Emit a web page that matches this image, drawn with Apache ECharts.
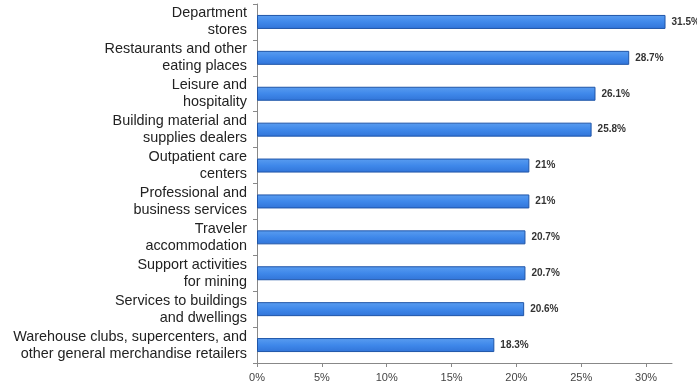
<!DOCTYPE html>
<html><head><meta charset="utf-8">
<script src="https://cdn.jsdelivr.net/npm/echarts@6/dist/echarts.min.js"></script>
<style>html,body{margin:0;padding:0;background:#fff}#c{width:697px;height:389px}</style>
</head><body><div id="c"></div>
<script>
const categories = [
  "Department\nstores",
  "Restaurants and other\neating places",
  "Leisure and\nhospitality",
  "Building material and\nsupplies dealers",
  "Outpatient care\ncenters",
  "Professional and\nbusiness services",
  "Traveler\naccommodation",
  "Support activities\nfor mining",
  "Services to buildings\nand dwellings",
  "Warehouse clubs, supercenters, and\nother general merchandise retailers"
];
const values = [31.5, 28.7, 26.1, 25.8, 21, 21, 20.7, 20.7, 20.6, 18.3];
const valueLabels = ["31.5%", "28.7%", "26.1%", "25.8%", "21%", "21%", "20.7%", "20.7%", "20.6%", "18.3%"];
const xTicks = [0, 5, 10, 15, 20, 25, 30];

const chart = echarts.init(document.getElementById('c'), null, {renderer: 'canvas'});
chart.setOption({
  animation: false,
  backgroundColor: '#ffffff',
  grid: {left: 257, top: 4, right: 25, bottom: 26},
  xAxis: {
    type: 'value', min: 0, max: 32,
    axisLine: {show: true, lineStyle: {color: '#888', width: 1}},
    axisTick: {show: true, length: 4, lineStyle: {color: '#888'}, customValues: xTicks},
    splitLine: {show: false},
    axisLabel: {customValues: xTicks, formatter: '{value}%', color: '#444', fontSize: 11, margin: 9, fontFamily: 'Liberation Sans, Arial, sans-serif'}
  },
  yAxis: {
    type: 'category', data: categories, inverse: true,
    axisLine: {show: true, lineStyle: {color: '#888', width: 1}},
    axisTick: {show: true, length: 4, lineStyle: {color: '#888'}},
    axisLabel: {color: '#222', fontSize: 14.4, lineHeight: 17, margin: 10, align: 'right', fontFamily: 'Liberation Sans, Arial, sans-serif'}
  },
  series: [{
    type: 'bar',
    data: values,
    barWidth: 14,
    itemStyle: {
      color: new echarts.graphic.LinearGradient(0, 0, 0, 1, [
        {offset: 0, color: '#5a9df0'},
        {offset: 0.5, color: '#3f88ea'},
        {offset: 1, color: '#3174d8'}
      ]),
      borderColor: '#1f55a8', borderWidth: 1
    },
    label: {
      show: true, position: 'right', distance: 6,
      formatter: p => valueLabels[p.dataIndex],
      color: '#333', fontSize: 10, fontWeight: 'bold', fontFamily: 'Liberation Sans, Arial, sans-serif'
    }
  }]
});
</script></body></html>
